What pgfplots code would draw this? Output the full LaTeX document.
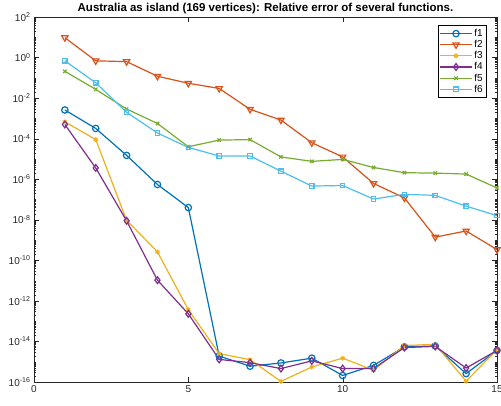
\documentclass[border=0pt]{standalone}
\usepackage{pgfplots}
\pgfplotsset{compat=1.18}
\usepackage{fontspec}
\setmainfont{Liberation Sans}
\definecolor{c1}{rgb}{0,0.447,0.741}
\definecolor{c2}{rgb}{0.85,0.325,0.098}
\definecolor{c3}{rgb}{0.929,0.694,0.125}
\definecolor{c4}{rgb}{0.494,0.184,0.556}
\definecolor{c5}{rgb}{0.466,0.674,0.188}
\definecolor{c6}{rgb}{0.301,0.745,0.933}
\definecolor{axgray}{rgb}{0.15,0.15,0.15}
\def\minorlist{}
\pgfplotsforeachungrouped \e in {-16,...,1}{%
  \pgfplotsforeachungrouped \m in {2,...,9}{\xdef\minorlist{\minorlist \m e\e,}}%
  \xdef\minorlist{\minorlist 1e\e,}%
}
\begin{document}
\begin{tikzpicture}
\begin{axis}[
  scale only axis,
  width=463pt, height=365pt,
  xmin=0, xmax=15, ymin=1e-16, ymax=1e2,
  ymode=log,
  xtick={0,5,10,15},
  ytick={1e-16,1e-14,1e-12,1e-10,1e-8,1e-6,1e-4,1e-2,1,1e2},
  minor ytick/.expand once={\minorlist 1e2},
  yticklabel={10\textsuperscript{\pgfmathparse{int(round(\tick/ln(10)))}\pgfmathresult}},
  /pgf/number format/assume math mode=true,
  tick label style={font=\fontsize{10}{11}\selectfont, text=axgray},
  axis line style={axgray},
  major tick length=5pt, minor tick length=2.5pt,
  tick style={axgray},
  title={\bfseries Australia as island (169 vertices): Relative error of several functions.},
  title style={font=\fontsize{11.5}{12}\selectfont, yshift=-6pt},
  legend style={font=\fontsize{10}{11}\selectfont, draw=black, fill=white, row sep=-1.6pt, inner sep=2pt, at={(0.978,0.978)}, anchor=north east},
  legend cell align=left,
  legend image code/.code={\draw[mark repeat=2,mark phase=2] plot coordinates {(0cm,0cm) (0.55cm,0cm) (1.1cm,0cm)};},
  every axis plot/.append style={line width=1.2pt},
]
\addplot[c1, mark=o, mark size=3.2pt, mark options={fill=white}] coordinates {(1,2.6e-3)(2,3.2e-4)(3,1.5e-5)(4,5.5e-7)(5,4e-8)(6,1.9e-15)(7,6e-16)(8,8.7e-16)(9,1.5e-15)(10,2.1e-16)(11,6.6e-16)(12,5.4e-15)(13,6e-15)(14,2.6e-16)(15,3.6e-15)};
\addlegendentry{f1}
\addplot[c2, mark=triangle, mark size=3.6pt, mark options={rotate=180, fill=white}] coordinates {(1,9.6)(2,0.69)(3,0.63)(4,0.12)(5,0.054)(6,0.03)(7,2.8e-3)(8,8.3e-4)(9,6.3e-5)(10,1.26e-5)(11,6.2e-7)(12,1.2e-7)(13,1.4e-9)(14,2.8e-9)(15,3.4e-10)};
\addlegendentry{f2}
\addplot[c3, mark=asterisk, mark size=2.4pt] coordinates {(1,6.8e-4)(2,9e-5)(3,9.5e-9)(4,2.6e-10)(5,3.7e-13)(6,2.5e-15)(7,1.26e-15)(8,1.07e-16)(9,5.5e-16)(10,1.5e-15)(11,3.8e-16)(12,6.3e-15)(13,7.2e-15)(14,1.1e-16)(15,4e-15)};
\addlegendentry{f3}
\addplot[c4, mark=diamond, mark size=3.4pt, mark options={fill=white}] coordinates {(1,5e-4)(2,3.6e-6)(3,8.9e-9)(4,1.05e-11)(5,2.3e-13)(6,1.3e-15)(7,9e-16)(8,4.6e-16)(9,1.1e-15)(10,4.6e-16)(11,4.6e-16)(12,5e-15)(13,5.7e-15)(14,4.9e-16)(15,3.6e-15)};
\addlegendentry{f4}
\addplot[c5, mark=x, mark size=2.4pt] coordinates {(1,0.21)(2,0.027)(3,2.9e-3)(4,5.6e-4)(5,4e-5)(6,8.5e-5)(7,9e-5)(8,1.26e-5)(9,7.6e-6)(10,9.5e-6)(11,3.8e-6)(12,2.1e-6)(13,2e-6)(14,1.8e-6)(15,3.7e-7)};
\addlegendentry{f5}
\addplot[c6, mark=square, mark size=2.2pt, mark options={fill=white}] coordinates {(1,0.69)(2,0.057)(3,2e-3)(4,1.9e-4)(5,3.7e-5)(6,1.4e-5)(7,1.4e-5)(8,2.5e-6)(9,4.6e-7)(10,4.9e-7)(11,1.05e-7)(12,1.8e-7)(13,1.6e-7)(14,4.7e-8)(15,1.6e-8)};
\addlegendentry{f6}
\end{axis}
\pgfresetboundingbox
\path ([shift={(-34pt,-23pt)}]current axis.south west) rectangle ([shift={(4pt,17pt)}]current axis.north east);
\end{tikzpicture}
\end{document}
